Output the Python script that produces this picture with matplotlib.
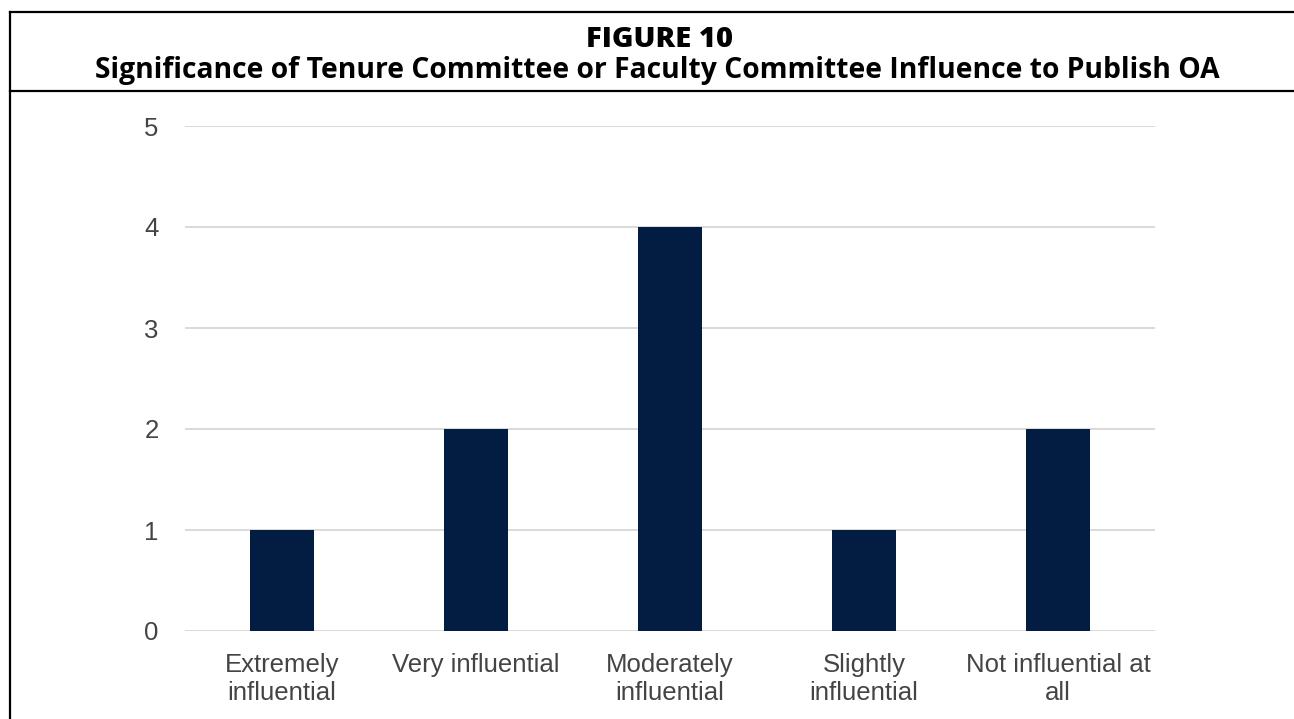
import matplotlib
matplotlib.use("Agg")
import matplotlib.pyplot as plt
from matplotlib.lines import Line2D

categories = ["Extremely\ninfluential", "Very influential", "Moderately\ninfluential",
              "Slightly\ninfluential", "Not influential at\nall"]
counts = [1, 2, 4, 1, 2]
y_ticks = [0, 1, 2, 3, 4, 5]

fig_title = "FIGURE 10"
fig_subtitle = "Significance of Tenure Committee or Faculty Committee Influence to Publish OA"

W, H = 1294, 719
fig = plt.figure(figsize=(W / 100, H / 100), dpi=100)
fig.patch.set_facecolor("white")

# frame lines: top rule, left rule, and the rule under the heading
def hline(ypx, x0px=10, x1px=W):
    fig.add_artist(Line2D([x0px / W, x1px / W], [1 - ypx / H, 1 - ypx / H],
                          transform=fig.transFigure, color="black", lw=1.6))

hline(11.5)
hline(91)
fig.add_artist(Line2D([10 / W, 10 / W], [1 - 11.5 / H, 0], transform=fig.transFigure,
                      color="black", lw=1.6))

fig.text(660 / W, 1 - 47 / H, fig_title, ha="center", va="baseline",
         fontsize=21, fontweight="heavy", family="Open Sans")
fig.text(657 / W, 1 - 78 / H, fig_subtitle, ha="center", va="baseline",
         fontsize=20.3, fontweight="bold", family="Open Sans")

ax = fig.add_axes([185 / W, 1 - 631 / H, (1155 - 185) / W, (631 - 126) / H])
x = list(range(len(categories)))
ax.bar(x, counts, width=0.33, color="#021c42", zorder=3)
ax.set_xlim(-0.5, len(categories) - 0.5)
ax.set_ylim(0, 5)
ax.set_yticks(y_ticks)
ax.set_xticks(x)
ax.set_xticklabels(categories, family="Liberation Sans", fontsize=18.5, color="#444444",
                   linespacing=1.2)
ax.set_yticklabels([str(v) for v in y_ticks], family="Liberation Sans", fontsize=18.5,
                   color="#444444")
ax.tick_params(axis="x", length=0, pad=16)
ax.tick_params(axis="y", length=0, pad=19)
for s in ax.spines.values():
    s.set_visible(False)
ax.grid(axis="y", color="#d9d9d9", lw=1.4, zorder=0)
ax.set_axisbelow(True)

fig.savefig("out.png", dpi=100, facecolor="white")
